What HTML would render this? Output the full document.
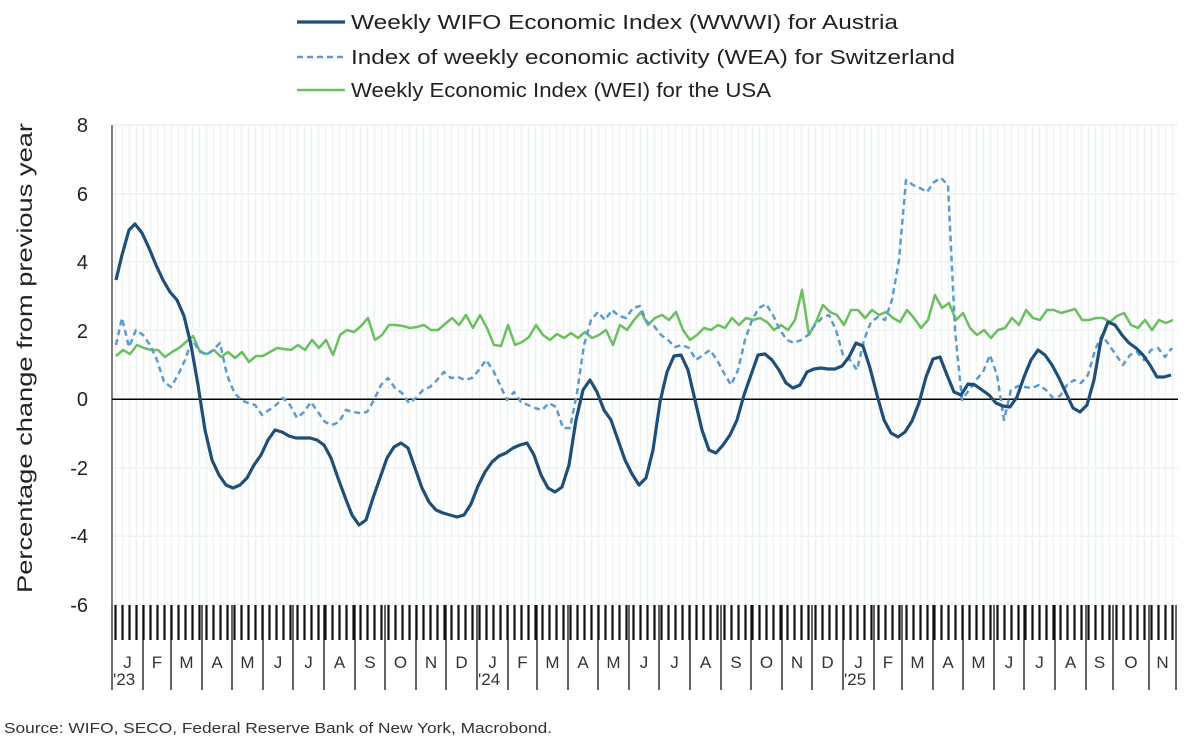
<!DOCTYPE html>
<html><head><meta charset="utf-8"><style>
html,body{margin:0;padding:0;background:#fff}
svg{display:block;font-family:"Liberation Sans",sans-serif}
</style></head><body>
<svg id="c" width="1200" height="746" viewBox="0 0 1200 746" xmlns="http://www.w3.org/2000/svg">
<g id="grid"></g>
<g id="ticks"></g>
<line x1="112" y1="125" x2="112" y2="690" stroke="#555" stroke-width="1.5"/>
<line x1="112" y1="399.3" x2="1178" y2="399.3" stroke="#000" stroke-width="1.5"/>
<g font-size="20" fill="#222" text-anchor="end">
<text x="88" y="132">8</text><text x="88" y="201">6</text><text x="88" y="269">4</text><text x="88" y="338">2</text><text x="88" y="406">0</text><text x="88" y="475">-2</text><text x="88" y="543">-4</text><text x="88" y="612">-6</text>
</g>
<text transform="translate(32,358) rotate(-90)" font-size="21" fill="#222" text-anchor="middle" textLength="470" lengthAdjust="spacingAndGlyphs">Percentage change from previous year</text>
<g id="labels" font-size="17" fill="#333" text-anchor="middle"></g>
<g font-size="17" fill="#333"><text x="113" y="685">'23</text><text x="478" y="685">'24</text><text x="844" y="685">'25</text></g>
<polyline fill="none" stroke="#6abf5e" stroke-width="2.5" stroke-linejoin="round" points="116,356 123,350 130,354 137,345 144,348 151,350 158,350 165,357 172,352 179,348 186,342 193,336 200,352 207,354 214,350 221,357 228,352 235,358 242,352 249,362 256,356 263,356 270,352 277,348 284,349 291,350 298,345 305,350 312,340 319,348 326,340 333,355 340,335 347,330 354,332 361,326 368,318 375,340 382,335 389,325 396,325 403,326 410,328 417,327 424,325 431,330 438,330 445,324 452,318 459,325 466,315 473,328 480,315 487,328 494,345 501,346 508,325 515,345 522,342 529,337 536,325 543,335 550,340 557,334 564,338 571,333 578,338 585,332 592,338 599,335 606,330 613,345 620,325 627,330 634,320 641,312 648,325 655,318 662,315 669,320 676,312 683,330 690,340 697,335 704,328 711,330 718,325 725,328 732,318 739,325 746,318 753,320 760,318 767,322 774,330 781,325 788,330 795,320 802,290 809,335 816,322 823,305 830,312 837,315 844,325 851,310 858,310 865,318 872,310 879,315 886,312 893,318 900,322 907,310 914,318 921,328 928,320 935,295 942,308 949,303 956,320 963,313 970,328 977,335 984,330 991,338 998,330 1005,328 1012,318 1019,325 1026,310 1033,318 1040,320 1047,310 1054,310 1061,313 1068,311 1075,309 1082,320 1089,320 1096,318 1103,318 1110,322 1117,316 1124,313 1131,325 1138,328 1145,320 1152,330 1159,320 1166,323 1173,320"/>
<polyline fill="none" stroke="#5b9bd5" stroke-width="2.5" stroke-dasharray="6,4" stroke-linejoin="round" points="116,345 122,318 129,347 136,330 143,335 150,345 157,360 164,382 171,387 178,375 185,360 192,340 199,350 206,355 213,350 220,343 227,375 234,392 241,400 248,403 255,405 262,415 269,410 276,405 283,398 290,405 297,418 304,412 311,402 318,412 325,422 332,425 339,422 346,410 353,412 360,413 367,412 374,400 381,385 388,378 395,388 402,393 409,403 416,398 423,390 430,387 437,380 444,372 451,378 458,377 465,380 472,378 479,370 486,360 493,370 500,385 507,400 514,392 521,402 528,405 535,408 542,410 549,403 556,407 563,428 570,428 577,393 584,345 591,320 598,312 605,320 612,310 619,316 626,318 633,308 640,306 647,322 654,326 661,335 668,340 675,347 682,345 689,348 696,360 703,355 710,350 717,360 724,373 731,385 738,370 745,340 752,320 759,308 766,304 773,315 780,330 787,340 794,343 801,340 808,335 815,325 822,318 829,315 836,330 843,355 850,360 857,370 864,340 871,322 878,317 885,320 892,300 899,260 906,180 913,185 920,188 927,192 934,182 941,178 948,185 955,330 962,400 969,390 976,380 983,372 990,355 997,375 1004,420 1011,390 1018,386 1025,387 1032,388 1039,385 1046,390 1053,398 1060,396 1067,385 1074,380 1081,383 1088,375 1095,350 1102,335 1109,345 1116,355 1123,365 1130,355 1137,352 1144,360 1151,350 1158,348 1165,357 1172,348"/>
<polyline fill="none" stroke="#1f4e79" stroke-width="3.2" stroke-linejoin="round" points="116,280 122,255 129,230 135,224 142,233 149,248 156,265 163,280 170,292 177,300 184,316 191,345 198,385 205,430 212,460 219,475 226,485 233,488 240,485 247,478 254,465 261,455 268,440 275,430 282,432 289,436 296,438 303,438 310,438 317,440 324,445 331,458 338,478 345,497 352,515 359,525 366,520 373,498 380,478 387,458 394,447 401,443 408,448 415,468 422,488 429,502 436,510 443,513 450,515 457,517 464,515 471,504 478,486 485,472 492,462 499,456 506,453 513,448 520,445 527,443 534,455 541,475 548,488 555,492 562,487 569,465 576,420 583,390 590,380 597,392 604,410 611,420 618,440 625,460 632,474 639,485 646,478 653,450 660,402 667,372 674,356 681,355 688,370 695,400 702,430 709,450 716,453 723,445 730,435 737,420 744,395 751,375 758,355 765,354 772,360 779,370 786,383 793,388 800,385 807,372 814,369 821,368 828,369 835,369 842,366 849,357 856,343 863,346 870,368 877,395 884,420 891,433 898,437 905,432 912,421 919,403 926,377 933,359 940,357 947,375 954,392 961,395 968,384 975,385 982,390 989,395 996,403 1003,406 1010,407 1017,397 1024,377 1031,360 1038,350 1045,355 1052,365 1059,378 1066,393 1073,408 1080,412 1087,405 1094,380 1101,340 1108,322 1115,325 1122,335 1129,343 1136,348 1143,355 1150,365 1157,377 1164,377 1171,375"/>
<g font-size="20" fill="#222">
<line x1="297" y1="22" x2="345" y2="22" stroke="#1f4e79" stroke-width="3.2"/><text x="351" y="29" textLength="547" lengthAdjust="spacingAndGlyphs">Weekly WIFO Economic Index (WWWI) for Austria</text>
<line x1="297" y1="57" x2="345" y2="57" stroke="#5b9bd5" stroke-width="2.5" stroke-dasharray="6,4"/><text x="351" y="64" textLength="604" lengthAdjust="spacingAndGlyphs">Index of weekly economic activity (WEA) for Switzerland</text>
<line x1="297" y1="90" x2="345" y2="90" stroke="#6abf5e" stroke-width="2.5"/><text x="351" y="97" textLength="420" lengthAdjust="spacingAndGlyphs">Weekly Economic Index (WEI) for the USA</text>
</g>
<text x="4" y="733" font-size="15" fill="#333" textLength="548" lengthAdjust="spacingAndGlyphs">Source: WIFO, SECO, Federal Reserve Bank of New York, Macrobond.</text>
</svg>
<script>
var NS="http://www.w3.org/2000/svg";
function el(p,t,a){var e=document.createElementNS(NS,t);for(var k in a)e.setAttribute(k,a[k]);p.appendChild(e);return e;}
var g=document.getElementById("grid"),tk=document.getElementById("ticks"),lb=document.getElementById("labels");
[125,193.6,261.9,330.4,467.6,536.2,604.8].forEach(function(y){el(g,"line",{x1:112,y1:y,x2:1178,y2:y,stroke:"#eef2f2","stroke-width":1.5});});
for(var k=0;k<153;k++){var x=115.5+7*k;if(x>1177)break;
el(g,"line",{x1:x,y1:125,x2:x,y2:605,stroke:"#eef3f3","stroke-width":1.5});
el(tk,"line",{x1:x,y1:605,x2:x,y2:640,stroke:"#111","stroke-width":2.2});}
var starts=[0,31,59,90,120,151,181,212,243,273,304,334,365,396,425,456,486,517,547,578,609,639,670,700,731,762,790,821,851,882,912,943,974,1001,1037,1064];
var L="JFMAMJJASOND";
for(var i=0;i<starts.length;i++){var x=112+starts[i];
el(tk,"line",{x1:x,y1:605,x2:x,y2:690,stroke:"#111","stroke-width":1.3});
if(i<starts.length-1){var t=el(lb,"text",{x:112+(starts[i]+starts[i+1])/2,y:668});t.textContent=L[i%12];}}
</script>
</body></html>
